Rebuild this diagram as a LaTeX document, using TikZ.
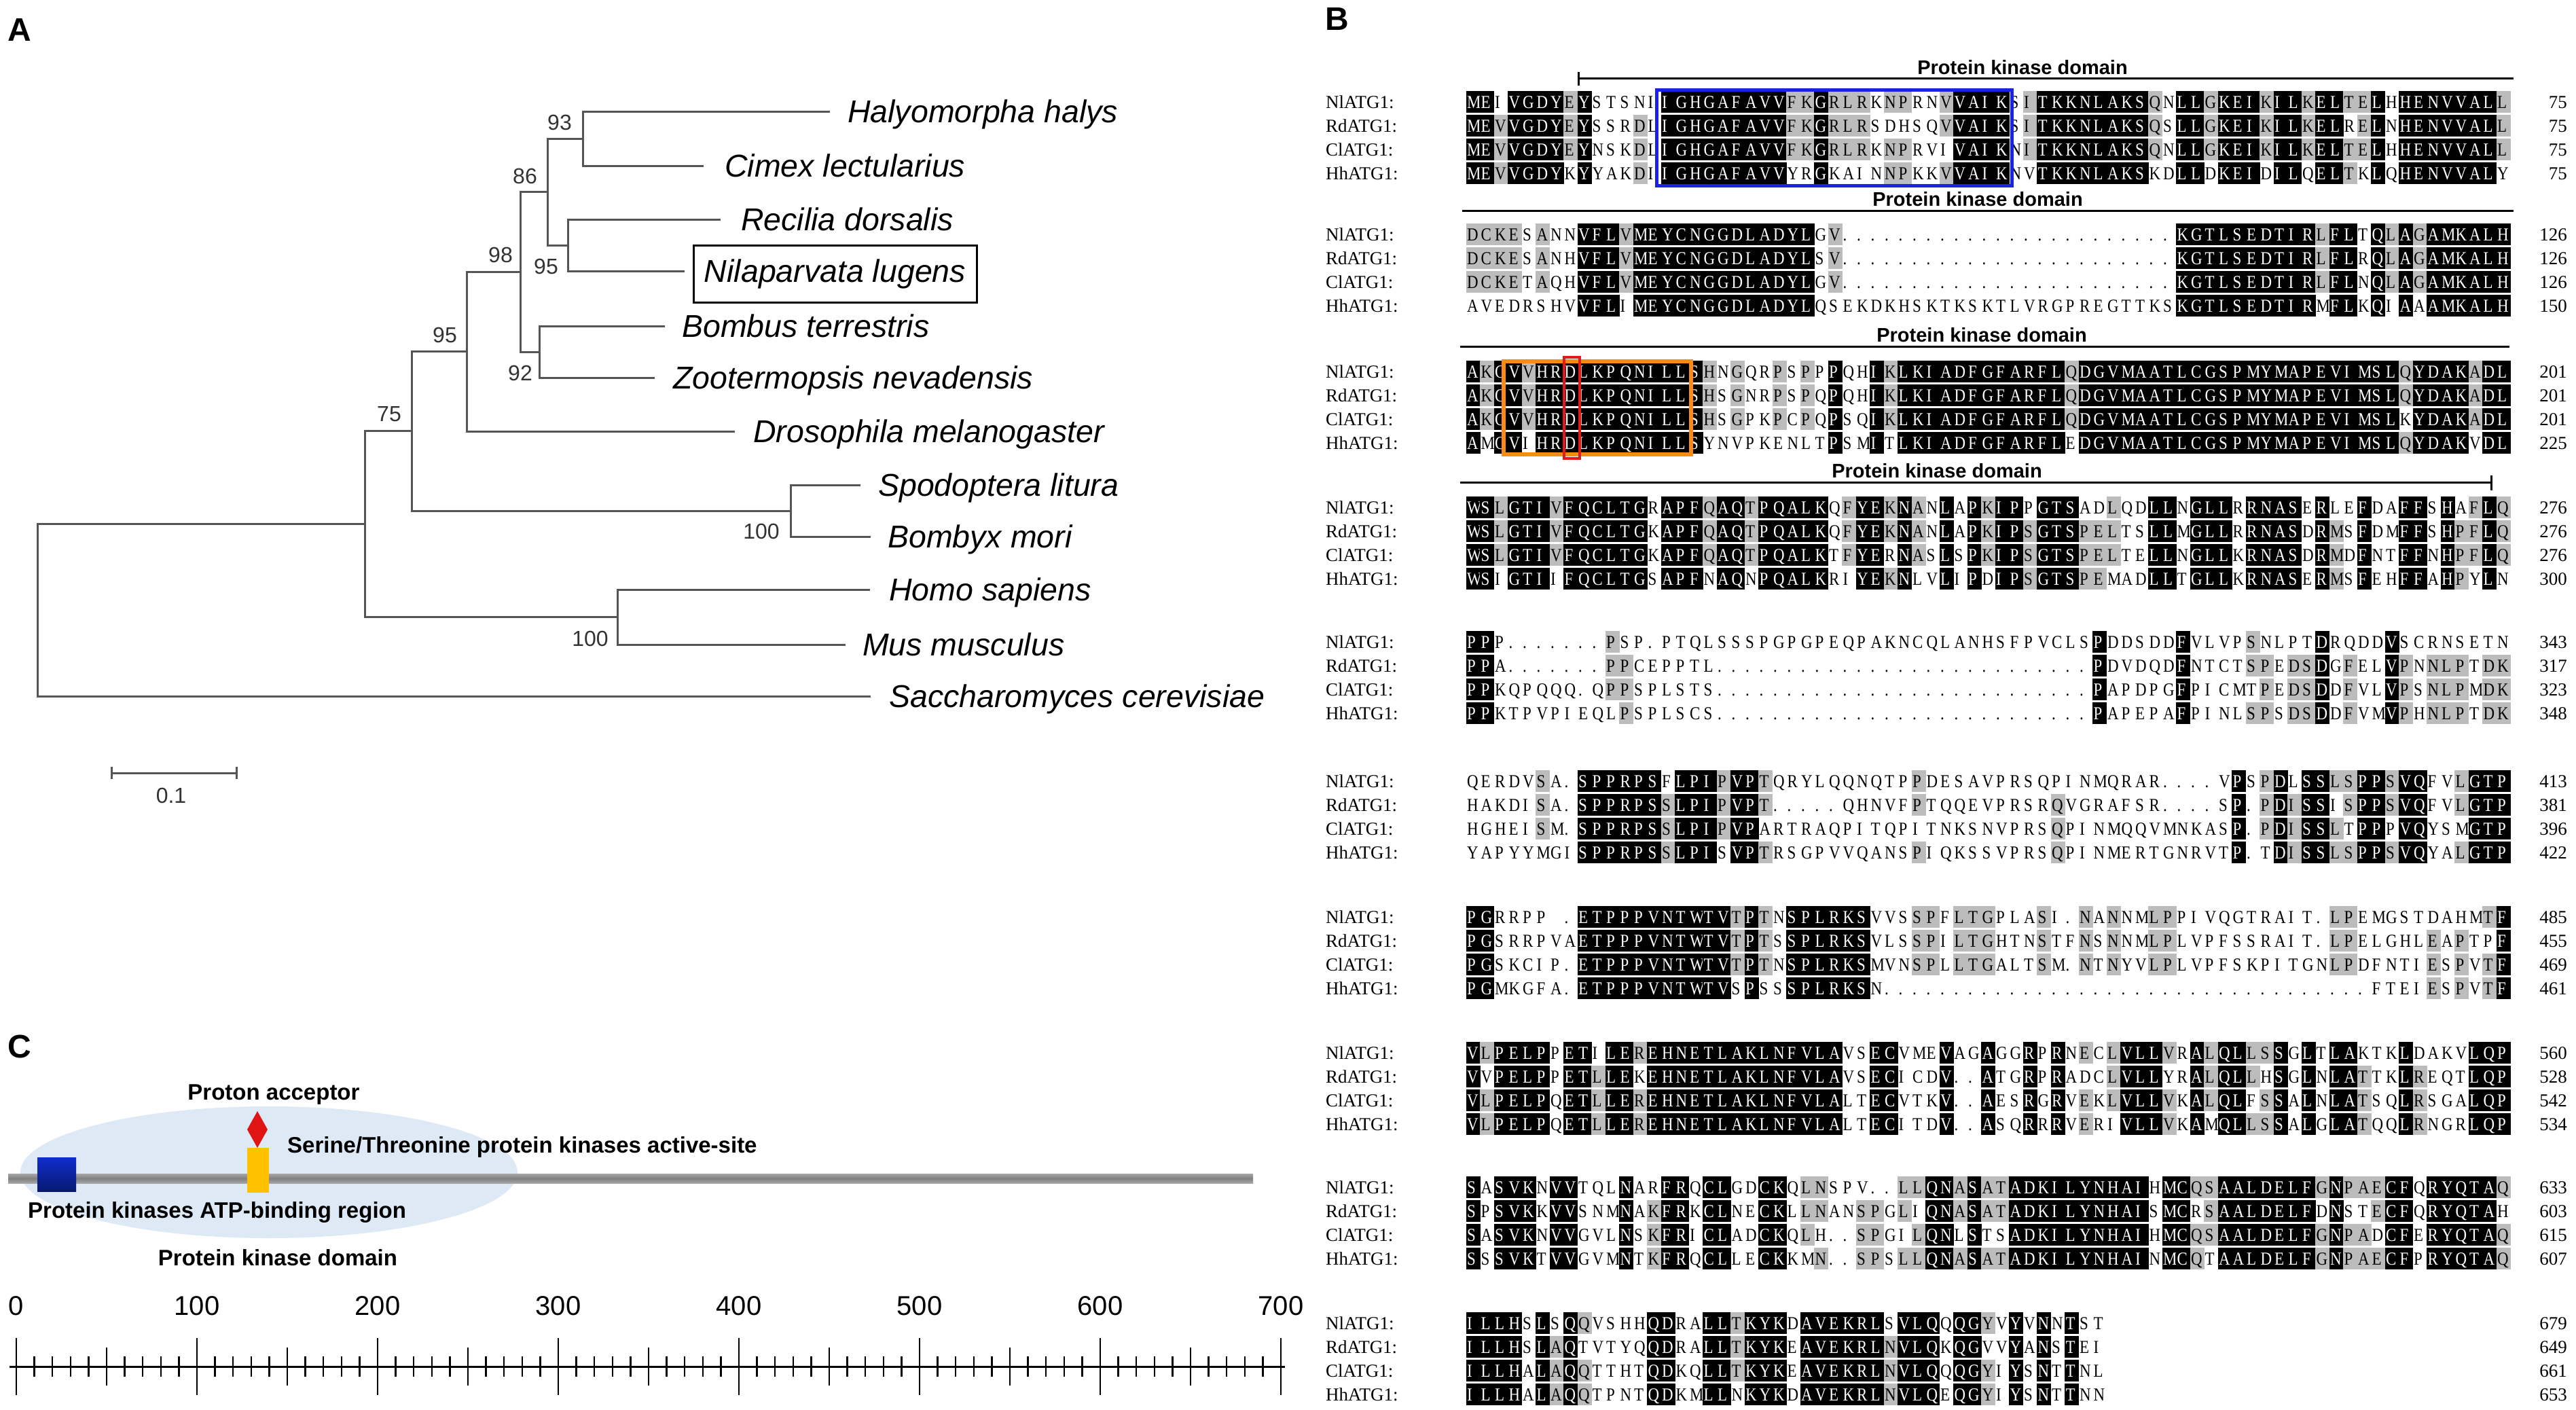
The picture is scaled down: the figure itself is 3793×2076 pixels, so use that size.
\documentclass[tikz,border=0pt]{standalone}
\usepackage{fontspec}
\setmainfont{Liberation Sans}
\newfontfamily\seqfont[FakeStretch=0.85]{Liberation Serif}
\newfontfamily\serfont{Liberation Serif}
\definecolor{gshade}{RGB}{188,188,188}
\definecolor{boxblue}{RGB}{25,35,225}
\definecolor{boxorange}{RGB}{250,140,20}
\definecolor{boxred}{RGB}{230,25,25}
\definecolor{treegray}{RGB}{85,85,85}
\definecolor{ellblue}{RGB}{221,234,246}
\definecolor{barblue}{RGB}{15,45,205}
\definecolor{baryellow}{RGB}{255,192,0}
\definecolor{bargray}{RGB}{128,128,128}
\definecolor{diamred}{RGB}{225,20,20}

\newcount\alnid
\tikzset{
  seqtxt/.style={anchor=base west, inner sep=0pt, font=\seqfont\fontsize{27}{27}\selectfont},
  namelab/.style={anchor=base west, inner sep=0pt, font=\serfont\fontsize{27}{27}\selectfont},
  numlab/.style={anchor=base east, inner sep=0pt, font=\serfont\fontsize{27}{27}\selectfont},
  hdr/.style={anchor=base, inner sep=0pt, font=\bfseries\fontsize{29}{29}\selectfont},
  hline/.style={line width=3pt, black},
  treeline/.style={line width=3pt, treegray},
  taxon/.style={anchor=base west, inner sep=0pt, font=\itshape\fontsize{46.5}{46.5}\selectfont},
  boot/.style={inner sep=0pt, text=black!80, font=\fontsize{32}{32}\selectfont},
  panel/.style={inner sep=0pt, font=\bfseries\fontsize{48}{48}\selectfont},
  clab/.style={inner sep=0pt, font=\bfseries\fontsize{33}{33}\selectfont},
  rulenum/.style={inner sep=0pt, font=\fontsize{40}{40}\selectfont},
}

\newcommand\alnDraw[4]{%
  \global\advance\alnid by 1
  \ifcase#4\relax
  \or \fill[gshade] (#1-0.2,#2-16) rectangle (#1+20.7,#2+16);
  \or \fill[black] (#1-0.2,#2-16) rectangle (#1+20.7,#2+16);
  \fi
  \ifnum#4=2
    \node[seqtxt,text=white] (q\the\alnid) at (#1+1,#2+9.5) {#3};
  \else
    \node[seqtxt] (q\the\alnid) at (#1+1,#2+9.5) {#3};
  \fi}

\ExplSyntaxOn
\tl_new:N \l__aln_a_tl
\tl_new:N \l__aln_b_tl
\tl_new:N \l__aln_c_tl
\tl_new:N \l__aln_d_tl
\tl_new:N \l__aln_ca_tl
\tl_new:N \l__aln_cb_tl
\tl_new:N \l__aln_cc_tl
\tl_new:N \l__aln_cd_tl
\tl_const:Nn \c__aln_dot_tl {.}
\tl_const:Nn \c__aln_blank_tl {-}
\int_new:N \l__aln_cnt_int
\int_new:N \l__aln_type_int
\int_new:N \l__aln_max_int
\cs_new_protected:Npn \__aln_cell:nnnN #1#2#3#4
  {
    \tl_if_empty:NF #4
      {
        \tl_if_eq:NNF #4 \c__aln_blank_tl
          {
            \int_zero:N \l__aln_cnt_int
            \tl_if_eq:NNT #4 \l__aln_ca_tl { \int_incr:N \l__aln_cnt_int }
            \tl_if_eq:NNT #4 \l__aln_cb_tl { \int_incr:N \l__aln_cnt_int }
            \tl_if_eq:NNT #4 \l__aln_cc_tl { \int_incr:N \l__aln_cnt_int }
            \tl_if_eq:NNT #4 \l__aln_cd_tl { \int_incr:N \l__aln_cnt_int }
            \int_set:Nn \l__aln_type_int { 0 }
            \int_compare:nNnT { \l__aln_cnt_int } = { 3 } { \int_set:Nn \l__aln_type_int { 1 } }
            \int_compare:nNnT { \l__aln_cnt_int } = { 4 } { \int_set:Nn \l__aln_type_int { 2 } }
            \tl_if_eq:NNT #4 \c__aln_dot_tl { \int_set:Nn \l__aln_type_int { 0 } }
            \use:x
              {
                \exp_not:N \alnDraw
                  { \fp_eval:n { 2159 + (#2 - 1) * 20.5 } }
                  { \fp_eval:n { #1 + #3 * 35 } }
                  { \exp_not:V #4 }
                  { \int_use:N \l__aln_type_int }
              }
          }
      }
  }
\cs_new_protected:Npn \alnblock #1#2#3#4#5
  {
    \tl_set:Nn \l__aln_a_tl {#2}
    \tl_set:Nn \l__aln_b_tl {#3}
    \tl_set:Nn \l__aln_c_tl {#4}
    \tl_set:Nn \l__aln_d_tl {#5}
    \int_set:Nn \l__aln_max_int
      { \int_max:nn { \int_max:nn { \tl_count:N \l__aln_a_tl } { \tl_count:N \l__aln_b_tl } }
                    { \int_max:nn { \tl_count:N \l__aln_c_tl } { \tl_count:N \l__aln_d_tl } } }
    \int_step_inline:nn { \l__aln_max_int }
      {
        \tl_set:Nx \l__aln_ca_tl { \tl_item:Nn \l__aln_a_tl {##1} }
        \tl_set:Nx \l__aln_cb_tl { \tl_item:Nn \l__aln_b_tl {##1} }
        \tl_set:Nx \l__aln_cc_tl { \tl_item:Nn \l__aln_c_tl {##1} }
        \tl_set:Nx \l__aln_cd_tl { \tl_item:Nn \l__aln_d_tl {##1} }
        \__aln_cell:nnnN {#1} {##1} {0} \l__aln_ca_tl
        \__aln_cell:nnnN {#1} {##1} {1} \l__aln_cb_tl
        \__aln_cell:nnnN {#1} {##1} {2} \l__aln_cc_tl
        \__aln_cell:nnnN {#1} {##1} {3} \l__aln_cd_tl
      }
  }
\ExplSyntaxOff

\newcommand\alnlabels[6]{%
  \node[namelab] (nl#1) at (1952,#2+9.5) {NlATG1:};
  \node[namelab] (rd#1) at (1952,#2+44.5) {RdATG1:};
  \node[namelab] (cl#1) at (1952,#2+79.5) {ClATG1:};
  \node[namelab] (hh#1) at (1952,#2+114.5) {HhATG1:};
  \node[numlab] (nna#1) at (3780,#2+9.5) {#3};
  \node[numlab] (nnb#1) at (3780,#2+44.5) {#4};
  \node[numlab] (nnc#1) at (3780,#2+79.5) {#5};
  \node[numlab] (nnd#1) at (3780,#2+114.5) {#6};
}

\begin{document}
\begin{tikzpicture}[x=1pt,y=-1pt]
\useasboundingbox (0,0) rectangle (3793,2076);
\fill[white] (0,0) rectangle (3793,2076);

% ---------------- Panel A: tree ----------------
\node[panel] (pA) at (29,44) {A};
\coordinate (tHh) at (1222,164.5);
\coordinate (tCl) at (1036,245);
\coordinate (tRd) at (1061,323);
\coordinate (tNl) at (1008,399);
\coordinate (tBt) at (979,480);
\coordinate (tZn) at (964,556);
\coordinate (tDm) at (1082,635);
\coordinate (tSl) at (1267,714);
\coordinate (tBm) at (1282,790);
\coordinate (tHs) at (1281,868);
\coordinate (tMm) at (1245,949);
\coordinate (tSc) at (1282,1025);
\coordinate (n93) at (858,204.75);
\coordinate (n95a) at (836,361);
\coordinate (n86) at (806,282.9);
\coordinate (n92) at (794,518);
\coordinate (n98) at (766,400.4);
\coordinate (n95b) at (687,517.7);
\coordinate (n100a) at (1164,752);
\coordinate (n75) at (606,634.85);
\coordinate (n100b) at (909,908.5);
\coordinate (nX) at (537,771.7);
\coordinate (nR) at (55,898.4);

\draw[treeline] (tHh) -| (n93) |- (tCl);
\draw[treeline] (tRd) -| (n95a) |- (tNl);
\draw[treeline] (n93) -| (n86) |- (n95a);
\draw[treeline] (tBt) -| (n92) |- (tZn);
\draw[treeline] (n86) -| (n98) |- (n92);
\draw[treeline] (n98) -| (n95b) |- (tDm);
\draw[treeline] (tSl) -| (n100a) |- (tBm);
\draw[treeline] (n95b) -| (n75) |- (n100a);
\draw[treeline] (tHs) -| (n100b) |- (tMm);
\draw[treeline] (n75) -| (nX) |- (n100b);
\draw[treeline] (nX) -| (nR) |- (tSc);

\node[taxon] (lHh) at (1248,181) {Halyomorpha halys};
\node[taxon] (lCl) at (1067,261) {Cimex lectularius};
\node[taxon] (lRd) at (1091,339) {Recilia dorsalis};
\node[draw, line width=3pt, inner sep=0pt, minimum width=417, minimum height=84,
      font=\itshape\fontsize{46.5}{46.5}\selectfont] (lNl) at (1229.5,403) {Nilaparvata lugens};
\node[taxon] (lBt) at (1004,496) {Bombus terrestris};
\node[taxon] (lZn) at (991,572) {Zootermopsis nevadensis};
\node[taxon] (lDm) at (1109,651) {Drosophila melanogaster};
\node[taxon] (lSl) at (1293,730) {Spodoptera litura};
\node[taxon] (lBm) at (1307,806) {Bombyx mori};
\node[taxon] (lHs) at (1309,884) {Homo sapiens};
\node[taxon] (lMm) at (1270,965) {Mus musculus};
\node[taxon] (lSc) at (1309,1041) {Saccharomyces cerevisiae};

\node[boot] (b93) at (824,180) {93};
\node[boot] (b86) at (773,259) {86};
\node[boot] (b95a) at (804,392) {95};
\node[boot] (b98) at (737,375) {98};
\node[boot] (b92) at (766,549) {92};
\node[boot] (b95b) at (655,493) {95};
\node[boot] (b75) at (573,610) {75};
\node[boot] (b100a) at (1121,782) {100};
\node[boot] (b100b) at (869,940) {100};

\coordinate (sbL) at (164,1138);
\coordinate (sbR) at (348,1138);
\draw[treeline] (sbL) -- (sbR);
\draw[treeline] (164,1129) -- (164,1147);
\draw[treeline] (348,1129) -- (348,1147);
\node[boot] (sbl) at (252,1171) {0.1};

% ---------------- Panel C ----------------
\node[panel] (pC) at (29,1541) {C};
\fill[ellblue] (396,1726) ellipse [x radius=366, y radius=97];
\shade[top color=bargray!70, bottom color=bargray!70, middle color=bargray] (12,1728) rectangle (1845,1742);
\shade[top color=barblue, bottom color=barblue!55!black] (55,1704) rectangle (112,1754);
\fill[baryellow] (364,1690) rectangle (396,1756);
\fill[diamred] (379,1636) -- (394,1663) -- (379,1690) -- (364,1663) -- cycle;
\node[clab] (cPA) at (403,1612) {Proton acceptor};
\node[clab, anchor=west] (cST) at (423,1689) {Serine/Threonine protein kinases active-site};
\node[clab, anchor=west] (cATP) at (41,1785) {Protein kinases ATP-binding region};
\node[clab] (cPKD) at (409,1852) {Protein kinase domain};

\draw[line width=3pt] (14,2012) -- (1892,2012);
\foreach \v in {0,10,...,700}{
  \pgfmathtruncatemacro\rr{mod(\v,100)}
  \pgfmathtruncatemacro\qq{mod(\v,50)}
  \ifnum\rr=0 \def\hh{42}\else\ifnum\qq=0 \def\hh{28}\else\def\hh{15}\fi\fi
  \draw[line width=2.5pt] ({24+\v*2.66},2012-\hh) -- ({24+\v*2.66},2012+\hh);
}
\foreach \v in {0,100,...,700}{
  \node[rulenum] (rn\v) at ({24+\v*2.66},1923) {\v};
}

% ---------------- Panel B ----------------
\node[panel] (pB) at (1969,28) {B};

\node[hdr] (h1) at (2978,110) {Protein kinase domain};
\coordinate (h1a) at (2324,116); \coordinate (h1b) at (3701,116);
\draw[hline] (h1a) -- (h1b);
\draw[hline] (2324,106) -- (2324,126);

\node[hdr] (h2) at (2912,304) {Protein kinase domain};
\coordinate (h2a) at (2153,311); \coordinate (h2b) at (3701,311);
\draw[hline] (h2a) -- (h2b);

\node[hdr] (h3) at (2918,503) {Protein kinase domain};
\coordinate (h3a) at (2150,510); \coordinate (h3b) at (3695,510);
\draw[hline] (h3a) -- (h3b);

\node[hdr] (h4) at (2852,703) {Protein kinase domain};
\coordinate (h4a) at (2150,710); \coordinate (h4b) at (3668,710);
\draw[hline] (h4a) -- (h4b);
\draw[hline] (3668,700) -- (3668,722);

\alnblock{150}
 {MEIVGDYEYSTSNIIGHGAFAVVFKGRLRKNPRNVVAIKSITKKNLAKSQNLLGKEIKILKELTELHHENVVALL}
 {MEVVGDYEYSSRDLIGHGAFAVVFKGRLRSDHSQVVAIKSITKKNLAKSQSLLGKEIKILKELRELNHENVVALL}
 {MEVVGDYEYNSKDLIGHGAFAVVFKGRLRKNPRVIVAIKNITKKNLAKSQNLLGKEIKILKELTELHHENVVALL}
 {MEVVGDYKYYAKDIIGHGAFAVVYRGKAINNPKKVVAIKNVTKKNLAKSKDLLDKEIDILQELTKLQHENVVALY}
\alnlabels{1}{150}{75}{75}{75}{75}

\alnblock{345}
 {DCKESANNVFLVMEYCNGGDLADYLGV........................KGTLSEDTIRLFLTQLAGAMKALH}
 {DCKESANHVFLVMEYCNGGDLADYLSV........................KGTLSEDTIRLFLRQLAGAMKALH}
 {DCKETAQHVFLVMEYCNGGDLADYLGV........................KGTLSEDTIRLFLNQLAGAMKALH}
 {AVEDRSHVVFLIMEYCNGGDLADYLQSEKDKHSKTKSKTLVRGPREGTTKSKGTLSEDTIRMFLKQIAAAMKALH}
\alnlabels{2}{345}{126}{126}{126}{150}

\alnblock{547}
 {AKGVVHRDLKPQNILLSHNGQRPSPPPQHIKLKIADFGFARFLQDGVMAATLCGSPMYMAPEVIMSLQYDAKADL}
 {AKGVVHRDLKPQNILLSHSGNRPSPQPQHIKLKIADFGFARFLQDGVMAATLCGSPMYMAPEVIMSLQYDAKADL}
 {AKGVVHRDLKPQNILLSHSGPKPCPQPSQIKLKIADFGFARFLQDGVMAATLCGSPMYMAPEVIMSLKYDAKADL}
 {AMGVIHRDLKPQNILLSYNVPKENLTPSMITLKIADFGFARFLEDGVMAATLCGSPMYMAPEVIMSLQYDAKVDL}
\alnlabels{3}{547}{201}{201}{201}{225}

\alnblock{747}
 {WSLGTIVFQCLTGRAPFQAQTPQALKQFYEKNANLAPKIPPGTSADLQDLLNGLLRRNASERLEFDAFFSHAFLQ}
 {WSLGTIVFQCLTGKAPFQAQTPQALKQFYEKNANLAPKIPSGTSPELTSLLMGLLRRNASDRMSFDMFFSHPFLQ}
 {WSLGTIVFQCLTGKAPFQAQTPQALKTFYERNASLSPKIPSGTSPELTELLNGLLKRNASDRMDFNTFFNHPFLQ}
 {WSIGTIIFQCLTGSAPFNAQNPQALKRIYEKNLVLIPDIPSGTSPEMADLLTGLLKRNASERMSFEHFFAHPYLN}
\alnlabels{4}{747}{276}{276}{276}{300}

\alnblock{945}
 {PPP.......PSP.PTQLSSSPGPGPEQPAKNCQLANHSFPVCLSPDDSDDFVLVPSNLPTDRQDDVSCRNSETN}
 {PPA.......PPCEPPTL...........................PDVDQDFNTCTSPEDSDGFELVPNNLPTDK}
 {PPKQPQQQ.QPPSPLSTS...........................PAPDPGFPICMTPEDSDDFVLVPSNLPMDK}
 {PPKTPVPIEQLPSPLSCS...........................PAPEPAFPINLSPSDSDDFVMVPHNLPTDK}
\alnlabels{5}{945}{343}{317}{323}{348}

\alnblock{1150}
 {QERDVSA.SPPRPSFLPIPVPTQRYLQQNQTPPDESAVPRSQPINMQRAR....VPSPDLSSLSPPSVQFVLGTP}
 {HAKDISA.SPPRPSSLPIPVPT.....QHNVFPTQQEVPRSRQVGRAFSR....SP.PDISSISPPSVQFVLGTP}
 {HGHEISM.SPPRPSSLPIPVPARTRAQPITQPITNKSNVPRSQPINMQQVMNKASP.PDISSLTPPPVQYSMGTP}
 {YAPYYMGISPPRPSSLPISVPTRSGPVVQANSPIQKSSVPRSQPINMERTGNRVTP.TDISSLSPPSVQYALGTP}
\alnlabels{6}{1150}{413}{381}{396}{422}

\alnblock{1350}
 {PGRRPP-.ETPPPVNTWTVTPTNSPLRKSVVSSPFLTGPLASI.NANNMLPPIVQGTRAIT.LPEMGSTDAHMTF}
 {PGSRRPVAETPPPVNTWTVTPTSSPLRKSVLSSPILTGHTNSTFNSNNMLPLVPFSSRAIT.LPELGHLEAPTPF}
 {PGSKCIP.ETPPPVNTWTVTPTNSPLRKSMVNSPLLTGALTSM.NTNYVLPLVPFSKPITGNLPDFNTIESPVTF}
 {PGMKGFA.ETPPPVNTWTVSPSSSPLRKSN...................................FTEIESPVTF}
\alnlabels{7}{1350}{485}{455}{469}{461}

\alnblock{1550}
 {VLPELPPETILEREHNETLAKLNFVLAVSECVMEVAGAGGRPRNECLVLLVRALQLLSSGLTLAKTKLDAKVLQP}
 {VVPELPPETLLEKEHNETLAKLNFVLAVSECICDV..ATGRPRADCLVLLYRALQLLHSGLNLATTKLREQTLQP}
 {VLPELPQETLLEREHNETLAKLNFVLALTECVTKV..AESRGRVEKLVLLVKALQLFSSALNLATSQLRSGALQP}
 {VLPELPQETLLEREHNETLAKLNFVLALTECITDV..ASQRRRVERIVLLVKAMQLLSSALGLATQQLRNGRLQP}
\alnlabels{8}{1550}{560}{528}{542}{534}

\alnblock{1748}
 {SASVKNVVTQLNARFRQCLGDCKQLNSPV..LLQNASATADKILYNHAIHMCQSAALDELFGNPAECFQRYQTAQ}
 {SPSVKKVVSNMNAKFRKCLNECKLLNANSPGLIQNASATADKILYNHAISMCRSAALDELFDNSTECFQRYQTAH}
 {SASVKNVVGVLNSKFRICLADCKQLH..SPGILQNLSTSADKILYNHAIHMCQSAALDELFGNPADCFERYQTAQ}
 {SSSVKTVVGVMNTKFRQCLLECKKMN..SPSLLQNASATADKILYNHAINMCQTAALDELFGNPAECFPRYQTAQ}
\alnlabels{9}{1748}{633}{603}{615}{607}

\alnblock{1948}
 {ILLHSLSQQVSHHQDRALLTKYKDAVEKRLSVLQQQGYVYVNNTST}
 {ILLHSLAQTVTYQQDRALLTKYKEAVEKRLNVLQKQGVVYANSTEI}
 {ILLHALAQQTTHTQDKQLLTKYKEAVEKRLNVLQQQGYIYSNTTNL}
 {ILLHALAQQTPNTQDKMLLNKYKDAVEKRLNVLQEQGYIYSNTTNN}
\alnlabels{10}{1948}{679}{649}{661}{653}

% highlight boxes
\draw[boxblue, line width=5pt] (2439,133) rectangle (2962,274);
\draw[boxorange, line width=6pt] (2214,532) rectangle (2490,669);
\draw[boxred, line width=3.5pt] (2303,526) rectangle (2326,675);
\end{tikzpicture}
\end{document}
